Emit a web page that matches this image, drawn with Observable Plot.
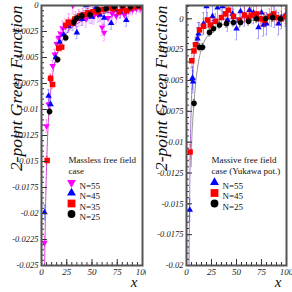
<!DOCTYPE html>
<html><head><meta charset="utf-8">
<script src="https://cdn.jsdelivr.net/npm/d3@7"></script>
<script src="https://cdn.jsdelivr.net/npm/@observablehq/plot@0.6"></script>
<style>
html,body{margin:0;padding:0;background:#fff;}
#wrap{display:flex;width:292px;height:292px;overflow:hidden;}
</style></head>
<body><div id="wrap"></div>
<script>
const xTicks = [0, 25, 50, 75, 100];
const leftYTicks = [0, -0.0025, -0.005, -0.0075, -0.01, -0.0125, -0.015, -0.0175, -0.02, -0.0225, -0.025];
const rightYTicks = [0.0, -0.0025, -0.005, -0.0075, -0.01, -0.0125, -0.015, -0.0175, -0.02];

// ---------- Left panel: massless free field ----------
const L55_x = [3, 5, 7, 9, 11, 13, 15, 17, 19, 21, 24, 27, 31, 34, 37, 41, 44, 48, 52, 56, 60, 62, 66, 70, 74, 78, 82, 86, 90, 94, 98];
const L55_y = [-0.0228, -0.0116, -0.0095, -0.0072, -0.0058, -0.0047, -0.0037, -0.0031, -0.0027, -0.0022, -0.0020, -0.0016, 0.0000, -0.0014, -0.0012, -0.0011, -0.0013, -0.0009, -0.0010, -0.0009, -0.0021, -0.0026, -0.0012, -0.0008, -0.0010, -0.0006, -0.0009, -0.0005, -0.0004, -0.0003, -0.0002];
const L55_e = [0.0006, 0.0006, 0.0005, 0.0005, 0.0005, 0.0005, 0.0006, 0.0006, 0.0007, 0.0007, 0.0007, 0.0008, 0.0008, 0.0008, 0.0008, 0.0008, 0.0008, 0.0008, 0.0008, 0.0007, 0.0008, 0.0008, 0.0007, 0.0007, 0.0007, 0.0006, 0.0006, 0.0006, 0.0005, 0.0005, 0.0005];

const L45_x = [3, 7, 9, 14, 18, 22, 27, 31, 35, 40, 44, 46, 50, 54, 58, 62, 66, 69, 74, 78, 84, 88, 93, 97];
const L45_y = [-0.0199, -0.0087, -0.0095, -0.0050, -0.0035, -0.0028, -0.0020, -0.0018, -0.0026, -0.0013, 0.0000, -0.0009, -0.0011, -0.0002, -0.0009, -0.0012, -0.0001, -0.0017, -0.0004, -0.0006, -0.0014, -0.0003, 0.0000, -0.0001];
const L45_e = [0.0007, 0.0006, 0.0006, 0.0005, 0.0005, 0.0005, 0.0006, 0.0006, 0.0006, 0.0006, 0.0006, 0.0006, 0.0006, 0.0006, 0.0006, 0.0006, 0.0006, 0.0006, 0.0006, 0.0006, 0.0006, 0.0005, 0.0005, 0.0005];

const L35_x = [5.6, 9, 11, 17, 20, 24, 27, 30, 33, 38, 42, 46, 51, 56, 61, 66, 70, 73, 77, 81, 84, 88, 92, 96, 99];
const L35_y = [-0.0149, -0.0070, -0.0076, -0.0041, -0.0040, -0.0019, -0.0016, -0.0017, -0.0013, -0.0010, -0.0009, -0.0007, -0.0006, -0.0006, -0.0004, -0.0002, -0.0003, -0.0002, -0.0006, -0.0003, -0.0005, -0.0002, -0.0001, 0.0000, -0.0001];
const L35_e = [0.0004, 0.0004, 0.0004, 0.0004, 0.0004, 0.0004, 0.0004, 0.0004, 0.0004, 0.0004, 0.0004, 0.0004, 0.0004, 0.0004, 0.0004, 0.0004, 0.0004, 0.0004, 0.0004, 0.0004, 0.0004, 0.0004, 0.0004, 0.0004, 0.0004];

const L25_x = [8, 16, 24, 32, 35, 40, 48, 56, 64, 72, 80, 88, 96];
const L25_y = [-0.0102, -0.0052, -0.0031, -0.0016, -0.0012, -0.0010, -0.0009, -0.0004, -0.0003, -0.0001, 0.0000, -0.0001, 0.0000];
const L25_e = [0.0003, 0.0003, 0.0003, 0.0003, 0.0003, 0.0003, 0.0003, 0.0003, 0.0003, 0.0003, 0.0003, 0.0003, 0.0003];

const Lcurve_x = [3.1, 3.5, 4, 5, 6, 7, 8, 10, 12, 15, 18, 22, 27, 33, 40, 50, 60, 75, 100];
const Lcurve_y = [-0.025, -0.0225, -0.0195, -0.0155, -0.0127, -0.0108, -0.0094, -0.0074, -0.0061, -0.0048, -0.0039, -0.0031, -0.0024, -0.0019, -0.0015, -0.0011, -0.0008, -0.0005, -0.0002];

// ---------- Right panel: massive free field (Yukawa) ----------
const R55_x = [3.3, 6, 6.5, 11, 12, 17, 20, 26, 31, 36, 41, 46, 50, 54, 58, 63, 67, 72, 75, 77, 80, 85, 88, 92, 95, 99];
const R55_y = [-0.0155, -0.0048, -0.0051, -0.0016, -0.0012, -0.0004, 0.0010, 0.0002, 0.0009, 0.0010, -0.0001, 0.0004, -0.0008, 0.0006, 0.0003, 0.0007, 0.0005, -0.0007, 0.0005, -0.0005, -0.0004, 0.0003, 0.0002, -0.0004, 0.0001, 0.0003];
const R55_e = [0.0009, 0.0009, 0.0009, 0.0009, 0.0009, 0.0009, 0.0009, 0.0009, 0.0009, 0.0009, 0.0009, 0.0009, 0.0009, 0.0009, 0.0009, 0.0009, 0.0009, 0.0009, 0.0009, 0.0009, 0.0009, 0.0009, 0.0009, 0.0009, 0.0009, 0.0009];

const R45_x = [3.6, 5.3, 7.5, 9, 13, 17, 21, 24, 29, 35, 39, 42, 47, 53, 58, 62, 65, 70, 74, 78, 83, 87, 90, 95, 99];
const R45_y = [-0.0108, -0.0034, -0.0026, -0.0021, -0.0009, -0.0006, -0.0001, -0.0005, -0.0002, 0.0001, 0.0004, 0.0007, 0.0002, -0.0001, 0.0003, 0.0001, 0.0003, 0.0004, 0.0000, -0.0001, 0.0002, 0.0004, 0.0001, 0.0000, 0.0002];
const R45_e = [0.0006, 0.0006, 0.0006, 0.0006, 0.0006, 0.0006, 0.0006, 0.0006, 0.0006, 0.0006, 0.0006, 0.0006, 0.0006, 0.0006, 0.0006, 0.0006, 0.0006, 0.0006, 0.0006, 0.0006, 0.0006, 0.0006, 0.0006, 0.0006, 0.0006];

const R25_x = [7.5, 13, 16, 23, 27, 33, 40, 47, 54, 62, 70, 79, 86, 94];
const R25_y = [-0.00685, -0.0023, -0.0023, -0.0011, -0.0008, -0.0005, -0.0004, -0.0003, -0.0003, -0.0002, 0.0000, 0.0000, 0.0001, 0.0000];
const R25_e = [0.0003, 0.0003, 0.0003, 0.0003, 0.0003, 0.0003, 0.0003, 0.0003, 0.0003, 0.0003, 0.0003, 0.0003, 0.0003, 0.0003];

const Rcurve1_x = [2.4, 3, 3.6, 4.5, 5.5, 7, 9, 12, 16, 22, 30, 45, 70, 100];
const Rcurve1_y = [-0.021, -0.0158, -0.0115, -0.0078, -0.0055, -0.0035, -0.0022, -0.0012, -0.0006, -0.0002, -0.0001, 0, 0, 0];
const Rcurve2_x = [4.6, 5.2, 6, 7.5, 9, 11, 14, 18, 23, 30, 40, 55, 75, 100];
const Rcurve2_y = [-0.0120, -0.0100, -0.0086, -0.0068, -0.0053, -0.0040, -0.0027, -0.0018, -0.0012, -0.0007, -0.0004, -0.0002, -0.0001, 0];

const leftTitle = ["Massless free field", "case"];
const rightTitle = ["Massive free field", "case (Yukawa pot.)"];
const leftLabels = ["N=55", "N=45", "N=35", "N=25"];
const rightLabels = ["N=55", "N=45", "N=25"];

const SERIF = "'Liberation Serif', 'DejaVu Serif', serif";
const zip = (xs, ys, es) => xs.map((x, i) => ({x, y: ys[i], e: es ? es[i] : 0}));

const STY = {
  tri: {symbol: "triangle", rotate: 0, r: 2.4, lr: 3.3},
  itri: {symbol: "triangle", rotate: 180, r: 2.4, lr: 3.3},
  sq: {symbol: "square", rotate: 0, r: 3.1, lr: 4.4},
  circ: {symbol: "circle", rotate: 0, r: 2.8, lr: 3.9}
};

function seriesMarks(data, color, sty) {
  return [
    Plot.ruleX(data, {x: "x", y1: d => d.y - d.e, y2: d => d.y + d.e, stroke: color, strokeOpacity: 0.35, strokeWidth: 1, clip: true}),
    Plot.ruleY(data, {y: d => d.y + d.e, x1: d => d.x - 1.1, x2: d => d.x + 1.1, stroke: color, strokeOpacity: 0.35, clip: true}),
    Plot.ruleY(data, {y: d => d.y - d.e, x1: d => d.x - 1.1, x2: d => d.x + 1.1, stroke: color, strokeOpacity: 0.35, clip: true}),
    Plot.dot(data, {x: "x", y: "y", fill: color, stroke: "none", symbol: sty.symbol, rotate: sty.rotate, r: sty.r, clip: true})
  ];
}

function panel({yDomain, yTicks, mL, mR, series, curves, title, labels, titleDx}) {
  const W = 146, H = 292, mT = 5, mB = 27;
  const pw = W - mL - mR, ph = H - mT - mB;
  const yMinor = d3.range(Math.round(yDomain[0] / 0.0005), Math.round(yDomain[1] / 0.0005) + 1).map(k => k * 0.0005);
  const xMinor = d3.range(0, 101, 5);
  const marks = [];
  for (const c of curves) {
    marks.push(Plot.line(c.data, {x: "x", y: "y", stroke: c.color, strokeWidth: 0.9, curve: "monotone-x", clip: true}));
  }
  for (const s of series) marks.push(...seriesMarks(s.data, s.color, s.sty));
  marks.push(Plot.tickY(yMinor, {y: d => d, insetRight: pw - 3, stroke: "#333", strokeWidth: 1}));
  marks.push(Plot.tickY(yTicks, {y: d => d, insetRight: pw - 6, stroke: "#333", strokeWidth: 1}));
  marks.push(Plot.tickX(xMinor, {x: d => d, insetTop: ph - 3, stroke: "#333", strokeWidth: 1}));
  marks.push(Plot.tickX(xTicks, {x: d => d, insetTop: ph - 6, stroke: "#333", strokeWidth: 1}));
  marks.push(Plot.frame({stroke: "#555", strokeWidth: 2}));
  marks.push(Plot.axisY({ticks: yTicks, tickSize: 0, tickPadding: 3, tickFormat: d => String(d), fontSize: 8.5, label: null, fill: "#222"}));
  marks.push(Plot.axisX({ticks: xTicks, tickSize: 0, tickPadding: 3, tickFormat: d => String(d), fontSize: 9, label: null, fill: "#222"}));
  marks.push(Plot.text(["2-point Green Function"], {frameAnchor: "top-left", text: d => d, rotate: -90, textAnchor: "end", dx: -32, dy: 0, fontSize: 17.5, fontStyle: "italic", fill: "#111"}));
  marks.push(Plot.text(["x"], {frameAnchor: "bottom-right", text: d => d, dx: -5, dy: 21, fontSize: 15, fontStyle: "italic", fill: "#111"}));
  title.forEach((t, i) => marks.push(Plot.text([t], {frameAnchor: "top-left", text: d => d, textAnchor: "start", dx: titleDx, dy: 151 + i * 11, fontSize: 9, fontStyle: "normal", fill: "#111"})));
  labels.forEach((t, i) => {
    const s = series[i];
    marks.push(Plot.dot([t], {frameAnchor: "top-left", dx: titleDx + 3, dy: 177 + i * 10.5, fill: s.color, symbol: s.sty.symbol, rotate: s.sty.rotate, r: s.sty.lr}));
    marks.push(Plot.text([t], {frameAnchor: "top-left", text: d => d, textAnchor: "start", dx: titleDx + 11, dy: 177 + i * 10.5, fontSize: 9, fontStyle: "normal", fill: "#111"}));
  });
  return Plot.plot({
    width: W, height: H, marginLeft: mL, marginRight: mR, marginTop: mT, marginBottom: mB,
    x: {domain: [0, 100]}, y: {domain: yDomain},
    style: {fontFamily: SERIF, fontStyle: "italic", background: "#fff", overflow: "visible"},
    marks
  });
}

const left = panel({
  yDomain: [-0.025, 0], yTicks: leftYTicks, mL: 41, mR: 4, titleDx: 27,
  series: [
    {data: zip(L55_x, L55_y, L55_e), color: "#ff00ff", sty: STY.itri},
    {data: zip(L45_x, L45_y, L45_e), color: "#0000ff", sty: STY.tri},
    {data: zip(L35_x, L35_y, L35_e), color: "#ff0000", sty: STY.sq},
    {data: zip(L25_x, L25_y, L25_e), color: "#000000", sty: STY.circ}
  ],
  curves: [{data: zip(Lcurve_x, Lcurve_y), color: "#cc33cc"}],
  title: leftTitle, labels: leftLabels
});
const right = panel({
  yDomain: [-0.02, 0.00108], yTicks: rightYTicks, mL: 40, mR: 6, titleDx: 25,
  series: [
    {data: zip(R55_x, R55_y, R55_e), color: "#0000ff", sty: STY.tri},
    {data: zip(R45_x, R45_y, R45_e), color: "#ff0000", sty: STY.sq},
    {data: zip(R25_x, R25_y, R25_e), color: "#000000", sty: STY.circ}
  ],
  curves: [{data: zip(Rcurve1_x, Rcurve1_y), color: "#9a66cc"}, {data: zip(Rcurve2_x, Rcurve2_y), color: "#888888"}],
  title: rightTitle, labels: rightLabels
});
document.getElementById("wrap").append(left, right);
</script></body></html>
